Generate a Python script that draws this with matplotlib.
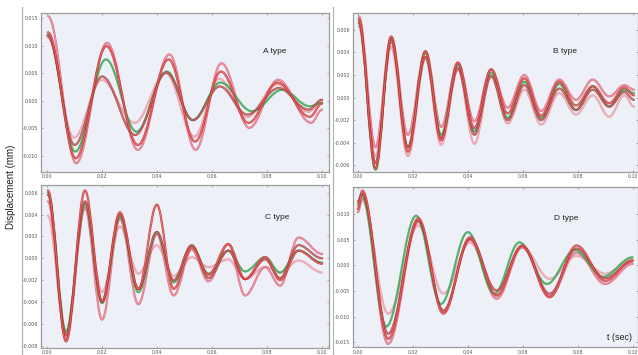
import matplotlib
matplotlib.use("Agg")
import matplotlib.pyplot as plt
from matplotlib.path import Path
from matplotlib.patches import PathPatch
from matplotlib.lines import Line2D

# ---------------- data (extrema) ----------------
# Panel A
A_t1 = [0.0004, 0.0106, 0.0218, 0.0330, 0.0445, 0.0540, 0.0634, 0.0735, 0.0840, 0.0960, 0.1000]
A_pink = [0.0153, -0.0113, 0.0105, -0.0089, 0.0084, -0.0089, 0.0068, -0.0049, 0.0038, -0.0040, -0.0016]
A_t2 = [0.0003, 0.0104, 0.0216, 0.0330, 0.0442, 0.0538, 0.0632, 0.0732, 0.0838, 0.0955, 0.1000]
A_red = [0.0124, -0.0104, 0.0099, -0.0080, 0.0075, -0.0074, 0.0053, -0.0040, 0.0033, -0.0029, -0.0005]
A_t3 = [0.0002, 0.0102, 0.0214, 0.0325, 0.0435, 0.0530, 0.0630, 0.0745, 0.0855, 0.0955, 0.1000]
A_green = [0.0120, -0.0092, 0.0075, -0.0056, 0.0053, -0.0035, 0.0033, -0.0019, 0.0020, -0.0010, -0.0004]
A_t4 = [0.0002, 0.0100, 0.0200, 0.0320, 0.0434, 0.0530, 0.0628, 0.0728, 0.0842, 0.0950, 0.1000]
A_dark = [0.0118, -0.0080, 0.0044, -0.0062, 0.0051, -0.0035, 0.0026, -0.0025, 0.0023, -0.0016, 0.0002]
A_t5 = [0.0002, 0.0098, 0.0198, 0.0318, 0.0432, 0.0535, 0.0626, 0.0725, 0.0836, 0.0950, 0.1000]
A_light = [0.0115, -0.0067, 0.0038, -0.0040, 0.0050, -0.0065, 0.0040, -0.0030, 0.0030, -0.0020, 0.0000]

# Panel B (shared extremum times)
B_t = [0.0003, 0.0064, 0.0121, 0.0182, 0.0246, 0.0303, 0.0364, 0.0424, 0.0485,
       0.0545, 0.0606, 0.0667, 0.0733, 0.0794, 0.0855, 0.0915, 0.0970, 0.1005]
B_pink = [0.0072, -0.0044, 0.0054, -0.0033, 0.0041, -0.0026, 0.0031, -0.0021, 0.0025,
          -0.0009, 0.0020, -0.0012, 0.0016, -0.0002, 0.0016, 0.0001, 0.0011, 0.0007]
B_red = [0.0070, -0.0063, 0.0054, -0.0048, 0.0041, -0.0038, 0.0031, -0.0027, 0.0025,
         -0.0014, 0.0017, -0.0016, 0.0014, -0.0007, 0.0010, -0.0005, 0.0009, 0.0002]
B_green = [0.0068, -0.0064, 0.0053, -0.0044, 0.0040, -0.0033, 0.0029, -0.0030, 0.0022,
           -0.0018, 0.0014, -0.0018, 0.0012, -0.0011, 0.0010, -0.0008, 0.0007, 0.0004]
B_dark = [0.0066, -0.0058, 0.0050, -0.0044, 0.0036, -0.0036, 0.0026, -0.0033, 0.0019,
          -0.0020, 0.0011, -0.0020, 0.0008, -0.0011, 0.0007, -0.0008, 0.0005, -0.0002]
B_light = [0.0063, -0.0052, 0.0045, -0.0052, 0.0035, -0.0042, 0.0025, -0.0041, 0.0019,
           -0.0023, 0.0007, -0.0024, 0.0004, -0.0015, 0.0002, -0.0017, 0.0002, -0.0008]

# Panel C (shared extremum times)
C_t = [0.0003, 0.0069, 0.0138, 0.0200, 0.0265, 0.0332, 0.0399, 0.0460,
       0.0526, 0.0587, 0.0659, 0.0720, 0.0793, 0.0847, 0.0914, 0.1000]
C_red = [0.0062, -0.0076, 0.0062, -0.0039, 0.0042, -0.0028, 0.0049, -0.0028,
         0.0010, -0.0015, 0.0013, -0.0019, 0.0001, -0.0020, 0.0007, -0.0005]
C_green = [0.0060, -0.0067, 0.0050, -0.0041, 0.0038, -0.0031, 0.0024, -0.0022,
           0.0011, -0.0014, 0.0007, -0.0012, 0.0001, -0.0013, 0.0007, -0.0004]
C_dark = [0.0058, -0.0070, 0.0052, -0.0040, 0.0040, -0.0028, 0.0024, -0.0020,
          0.0012, -0.0018, 0.0007, -0.0019, -0.0001, -0.0018, 0.0012, 0.0000]
C_pink = [0.0052, -0.0074, 0.0046, -0.0056, 0.0036, -0.0042, 0.0022, -0.0034,
          0.0008, -0.0021, 0.0013, -0.0034, -0.0008, -0.0025, 0.0019, 0.0004]
C_light = [0.0039, -0.0072, 0.0047, -0.0031, 0.0029, -0.0014, 0.0012, -0.0016,
           0.0001, -0.0008, -0.0001, -0.0019, -0.0008, -0.0013, -0.0002, -0.0013]

# Panel D
D_t_green = [0.0000, 0.0012, 0.0103, 0.0212, 0.0302, 0.0400, 0.0497, 0.0588, 0.0688, 0.0790, 0.0892, 0.1000]
D_green = [0.0120, 0.0140, -0.0119, 0.0097, -0.0075, 0.0065, -0.0055, 0.0045, -0.0036, 0.0030, -0.0022, 0.0016]
D_t = [0.0000, 0.0016, 0.0110, 0.0220, 0.0311, 0.0408, 0.0505, 0.0598, 0.0698, 0.0796, 0.0900, 0.1000]
D_red = [0.0110, 0.0146, -0.0143, 0.0092, -0.0094, 0.0055, -0.0058, 0.0039, -0.0062, 0.0039, -0.0030, 0.0010]
D_dark = [0.0125, 0.0140, -0.0133, 0.0088, -0.0088, 0.0052, -0.0049, 0.0038, -0.0055, 0.0033, -0.0025, 0.0008]
D_pink = [0.0104, 0.0132, -0.0153, 0.0085, -0.0090, 0.0050, -0.0065, 0.0035, -0.0060, 0.0025, -0.0036, 0.0003]
D_light = [0.0115, 0.0127, -0.0094, 0.0078, -0.0055, 0.0045, -0.0060, 0.0036, -0.0026, 0.0019, -0.0016, 0.0012]

x_ticks = [0.00, 0.02, 0.04, 0.06, 0.08, 0.10]
A_yticks = [-0.010, -0.005, 0.000, 0.005, 0.010, 0.015]
B_yticks = [-0.006, -0.004, -0.002, 0.000, 0.002, 0.004, 0.006]
C_yticks = [-0.008, -0.006, -0.004, -0.002, 0.000, 0.002, 0.004, 0.006]
D_yticks = [-0.015, -0.010, -0.005, 0.000, 0.005, 0.010]

# ---------------- styling ----------------
COL = {
    "green": "#3aa856",
    "red": "#cf2a2a",
    "dark": "#a83434",
    "pink": "#df5f78",
    "light": "#e8929f",
}
BG = "#eef0f8"


def extrema_path(ts, ys, k=0.36):
    verts = [(ts[0], ys[0])]
    codes = [Path.MOVETO]
    for i in range(len(ts) - 1):
        t0, t1 = ts[i], ts[i + 1]
        y0, y1 = ys[i], ys[i + 1]
        d = t1 - t0
        verts += [(t0 + k * d, y0), (t1 - k * d, y1), (t1, y1)]
        codes += [Path.CURVE4] * 3
    return Path(verts, codes)


def draw(ax, ts, ys, color, inner=True):
    p = extrema_path(ts, ys)
    ax.add_patch(PathPatch(p, fill=False, edgecolor=color,
                           lw=1.6, alpha=0.85, capstyle="round", joinstyle="round"))
    if inner:
        ax.add_patch(PathPatch(p, fill=False, edgecolor="white",
                               lw=0.45, alpha=0.35, capstyle="round", joinstyle="round"))


def style(ax, xlim, ylim, yticks):
    ax.set_facecolor(BG)
    ax.set_xlim(*xlim)
    ax.set_ylim(*ylim)
    ax.set_xticks(x_ticks)
    ax.set_xticklabels([f"{v:.2f}" for v in x_ticks])
    ax.set_yticks(yticks)
    ax.set_yticklabels([f"{v:.3f}" for v in yticks])
    ax.tick_params(axis="both", labelsize=3.4, colors="#8a8a8a", labelcolor="#555555",
                   length=1.6, width=0.5, direction="in", top=True, right=True, pad=1.8)
    for s in ax.spines.values():
        s.set_color("#9c9c9c")
        s.set_linewidth(0.9)


W, H = 638, 355
fig = plt.figure(figsize=(W / 100, H / 100), dpi=100)
fig.patch.set_facecolor("white")


def rect(l, r, t, b):
    return [l / W, 1 - b / H, (r - l) / W, (b - t) / H]


axA = fig.add_axes(rect(41, 329, 13, 172))
axB = fig.add_axes(rect(353, 637.5, 13, 172))
axC = fig.add_axes(rect(41, 329, 185, 348))
axD = fig.add_axes(rect(353, 637.5, 187, 347))

style(axA, (-0.0022, 0.1025), (-0.0129, 0.0159), A_yticks)
style(axB, (-0.0018, 0.1018), (-0.0066, 0.0075), B_yticks)
style(axC, (-0.0022, 0.1025), (-0.0082, 0.0067), C_yticks)
style(axD, (-0.0018, 0.1018), (-0.0159, 0.0153), D_yticks)

draw(axA, A_t5, A_light, COL["light"])
draw(axA, A_t1, A_pink, COL["pink"])
draw(axA, A_t3, A_green, COL["green"], inner=False)
draw(axA, A_t4, A_dark, COL["dark"])
draw(axA, A_t2, A_red, COL["red"])

draw(axB, B_t, B_light, COL["light"])
draw(axB, B_t, B_pink, COL["pink"])
draw(axB, B_t, B_green, COL["green"], inner=False)
draw(axB, B_t, B_dark, COL["dark"])
draw(axB, B_t, B_red, COL["red"])

draw(axC, C_t, C_light, COL["light"])
draw(axC, C_t, C_pink, COL["pink"])
draw(axC, C_t, C_green, COL["green"], inner=False)
draw(axC, C_t, C_dark, COL["dark"])
draw(axC, C_t, C_red, COL["red"])

draw(axD, D_t, D_light, COL["light"])
draw(axD, D_t, D_pink, COL["pink"])
draw(axD, D_t_green, D_green, COL["green"], inner=False)
draw(axD, D_t, D_dark, COL["dark"])
draw(axD, D_t, D_red, COL["red"])

tf = dict(fontsize=6, family=["Liberation Sans", "DejaVu Sans"], color="#222222",
          ha="center", va="center")
axA.text(0.81, 0.755, "A type", transform=axA.transAxes, **tf)
axB.text(0.745, 0.755, "B type", transform=axB.transAxes, **tf)
axC.text(0.82, 0.80, "C type", transform=axC.transAxes, **tf)
axD.text(0.75, 0.806, "D type", transform=axD.transAxes, **tf)
axD.text(0.935, 0.058, "t (sec)", transform=axD.transAxes,
         **{**tf, "fontsize": 6.5})

fig.text(11 / W, 1 - 187 / H, "Displacement (mm)", rotation=90, ha="center", va="center",
         fontsize=7, family=["Liberation Sans", "DejaVu Sans"], color="#222222")

for xp in (22, 333):
    fig.add_artist(Line2D([xp / W, xp / W], [0, 1 - 7 / H], transform=fig.transFigure,
                          color="#b4b4b4", lw=0.9))

fig.savefig("out.png", dpi=100, facecolor="white")
